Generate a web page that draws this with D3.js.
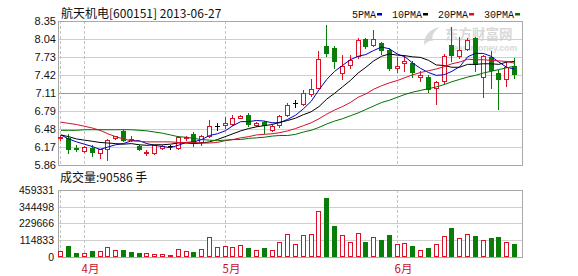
<!DOCTYPE html>
<html lang="zh">
<head>
<meta charset="UTF-8">
<title>航天机电[600151] 日K线</title>
<script src="https://d3js.org/d3.v7.min.js"></script>
<style>
  body { margin: 0; background: #fff; }
  svg { display: block; }
  text { font-family: "Liberation Sans", Arial, sans-serif; }
  .cjk { font-family: "Noto Sans CJK SC", sans-serif; }
  .mono { font-family: "Liberation Mono", "DejaVu Sans Mono", monospace; }
</style>
</head>
<body>
<div id="chart"></div>
<script>
// trading days shown (2013-03-27 .. 2013-06-27)
const dates = [
  "2013-03-27","2013-03-28","2013-03-29",
  "2013-04-01","2013-04-02","2013-04-03","2013-04-08","2013-04-09","2013-04-10","2013-04-11","2013-04-12",
  "2013-04-15","2013-04-16","2013-04-17","2013-04-18","2013-04-19","2013-04-22","2013-04-23","2013-04-24",
  "2013-04-25","2013-04-26",
  "2013-05-02","2013-05-03","2013-05-06","2013-05-07","2013-05-08","2013-05-09","2013-05-10","2013-05-13",
  "2013-05-14","2013-05-15","2013-05-16","2013-05-17","2013-05-20","2013-05-21","2013-05-22","2013-05-23",
  "2013-05-24","2013-05-27","2013-05-28","2013-05-29","2013-05-30","2013-05-31",
  "2013-06-03","2013-06-04","2013-06-05","2013-06-06","2013-06-07","2013-06-13","2013-06-14","2013-06-17",
  "2013-06-18","2013-06-19","2013-06-20","2013-06-21","2013-06-24","2013-06-25","2013-06-26","2013-06-27"
];

const open  = [6.33,6.33,6.15,6.10,6.16,6.07,6.14,6.32,6.45,6.31,6.19,6.06,6.06,6.15,6.18,6.15,6.32,6.40,6.26,6.37,
               6.53,6.55,6.57,6.68,6.72,6.55,6.61,6.46,6.55,6.72,6.93,6.91,7.08,7.20,7.91,7.89,7.45,7.59,7.74,8.04,
               7.93,7.97,7.85,7.53,7.63,7.62,7.38,7.39,7.19,7.31,7.93,7.74,7.87,8.06,7.38,7.72,7.45,7.35,7.57];
const close = [6.35,6.14,6.14,6.17,6.09,6.13,6.30,6.36,6.29,6.30,6.13,6.09,6.20,6.18,6.18,6.35,6.34,6.25,6.36,6.54,
               6.53,6.58,6.68,6.71,6.57,6.59,6.55,6.53,6.70,6.90,6.93,7.10,7.17,7.70,7.80,7.65,7.57,7.68,8.02,7.91,
               8.04,7.85,7.53,7.57,7.66,7.47,7.42,7.18,7.30,7.74,7.76,7.84,8.02,7.60,7.74,7.51,7.35,7.55,7.43];
const high  = [6.38,6.39,6.21,6.18,6.20,6.14,6.31,6.37,6.49,6.36,6.20,6.12,6.21,6.21,6.20,6.37,6.36,6.43,6.38,6.63,
               6.59,6.69,6.72,6.72,6.76,6.61,6.62,6.55,6.72,6.94,6.98,7.16,7.34,7.83,8.28,7.91,7.77,7.77,8.06,8.05,
               8.20,7.99,7.88,7.72,7.74,7.65,7.48,7.42,7.32,7.78,8.24,8.07,8.06,8.07,7.77,7.83,7.50,7.66,7.71];
const low   = [6.30,6.07,6.10,6.09,6.02,5.98,5.95,6.31,6.27,6.27,6.12,6.03,6.05,6.13,6.14,6.13,6.30,6.18,6.21,6.34,
               6.47,6.50,6.55,6.67,6.53,6.53,6.42,6.44,6.51,6.70,6.86,6.90,7.06,7.19,7.74,7.54,7.34,7.54,7.71,7.89,
               7.92,7.78,7.51,7.47,7.48,7.39,7.31,7.13,6.92,7.28,7.65,7.71,7.85,7.48,7.03,7.19,6.82,7.22,7.36];

// volume in 手
const volume = [41000,75000,27300,25000,41000,41000,66000,47800,47800,34100,27300,25000,18200,18200,11400,52300,
                38700,34100,52300,134200,68200,72800,68200,79600,61400,45500,61400,45500,102300,154600,88700,
                147800,154600,313800,402500,211500,147800,102300,161500,102300,134200,116000,150100,86400,93200,
                75000,45500,61400,86400,141000,197800,127300,154600,143300,113700,129600,136400,100100,90586];

// moving averages
const ma5  = [6.38,6.31,6.26,6.22,6.18,6.13,6.17,6.21,6.23,6.28,6.28,6.23,6.20,6.18,6.16,6.20,6.25,6.26,6.30,6.37,
              6.40,6.45,6.54,6.61,6.61,6.63,6.62,6.59,6.59,6.65,6.72,6.83,6.96,7.16,7.34,7.48,7.58,7.68,7.74,7.77,
              7.84,7.90,7.87,7.78,7.73,7.62,7.53,7.46,7.41,7.42,7.48,7.56,7.73,7.79,7.79,7.74,7.64,7.55,7.52];
const ma10 = [6.38,6.35,6.31,6.29,6.27,6.25,6.24,6.23,6.22,6.23,6.21,6.20,6.21,6.21,6.22,6.24,6.24,6.23,6.24,6.26,
              6.30,6.35,6.40,6.45,6.49,6.52,6.54,6.56,6.60,6.63,6.67,6.73,6.78,6.87,7.00,7.10,7.21,7.32,7.45,7.55,
              7.66,7.74,7.78,7.76,7.75,7.73,7.72,7.67,7.59,7.58,7.55,7.55,7.60,7.60,7.61,7.61,7.60,7.64,7.65];
const ma20 = [6.60,6.58,6.56,6.53,6.50,6.46,6.40,6.35,6.31,6.28,6.27,6.26,6.26,6.26,6.26,6.25,6.25,6.25,6.24,6.24,
              6.25,6.28,6.30,6.33,6.35,6.38,6.39,6.40,6.42,6.45,6.49,6.54,6.59,6.66,6.74,6.81,6.87,6.94,7.03,7.09,
              7.17,7.23,7.28,7.32,7.37,7.42,7.46,7.49,7.52,7.56,7.61,7.64,7.69,7.68,7.68,7.67,7.66,7.65,7.62];
const ma30 = [6.46,6.46,6.46,6.47,6.47,6.47,6.47,6.47,6.47,6.47,6.46,6.45,6.43,6.41,6.38,6.35,6.34,6.32,6.30,6.29,
              6.28,6.29,6.30,6.30,6.32,6.33,6.34,6.36,6.37,6.37,6.39,6.43,6.46,6.51,6.57,6.62,6.66,6.71,6.76,6.82,
              6.88,6.94,6.98,7.03,7.08,7.12,7.15,7.18,7.21,7.25,7.30,7.34,7.38,7.41,7.45,7.48,7.51,7.54,7.57];

const priceTicks = [5.86, 6.17, 6.48, 6.79, 7.11, 7.42, 7.73, 8.04, 8.35];
const volTicks = [0, 114833, 229666, 344498, 459331];
const monthLines = ["2013-03-27", "2013-04-01", "2013-05-02", "2013-06-03"];
const monthLabels = ["", "4月", "5月", "6月"];
const maNames = ["5PMA", "10PMA", "20PMA", "30PMA"];

const W = 578, H = 276;
const left = 58.5, right = 522.5;
const priceTop = 21, priceBottom = 165;
const volTop = 190, volBottom = 257;

const RED = "#dd1126", GREEN = "#087d08";
const maColors = ["#0000c0", "#000000", "#d4102a", "#007000"];
const maSeries = [ma5, ma10, ma20, ma30];

const svg = d3.select("#chart").append("svg")
  .attr("width", W).attr("height", H);

svg.append("rect").attr("width", W).attr("height", H).attr("fill", "#fff");

const x = d3.scaleBand().domain(dates).range([57, 57 + 7.82 * dates.length])
  .paddingInner(0.3).paddingOuter(0.15);
const mid = d => x(d) + x.bandwidth() / 2;
const px = d => Math.floor(mid(d));

const y = d3.scaleLinear().domain([5.86, 8.35]).range([priceBottom, priceTop]);
const yv = d3.scaleLinear().domain([0, 459331]).range([volBottom, volTop]);
const snap = v => Math.round(v) + 0.5;

// watermark
const wm = svg.append("g").attr("fill", "#d9d9d9");
wm.append("path")
  .attr("d", "M424,45 C424,36 429,29 440,27 C434,31 431,36 433,41 C430,40 427,42 424,45 Z");
wm.append("text").attr("class", "cjk").attr("x", 445).attr("y", 38.5)
  .attr("font-size", 13.5).attr("font-weight", "bold").text("东方财富网");
wm.append("text").attr("x", 517).attr("y", 50.5).attr("text-anchor", "end")
  .attr("font-size", 8.5).attr("font-weight", "bold").text("eastmoney.com");

// horizontal grid
svg.append("g").selectAll("line").data(priceTicks).join("line")
  .attr("x1", left).attr("x2", right)
  .attr("y1", d => snap(y(d))).attr("y2", d => snap(y(d)))
  .attr("stroke", d => d === 7.11 ? "#9a9a9a" : "#cfcfcf");

svg.append("g").selectAll("line").data(volTicks).join("line")
  .attr("x1", left).attr("x2", right)
  .attr("y1", d => snap(yv(d))).attr("y2", d => snap(yv(d)))
  .attr("stroke", "#cfcfcf");

// month dashed lines
const ml = svg.append("g").attr("stroke", "#c4c4c4").attr("stroke-dasharray", "3,2");
monthLines.forEach(d => {
  ml.append("line").attr("x1", px(d) + 0.5).attr("x2", px(d) + 0.5)
    .attr("y1", priceTop).attr("y2", priceBottom);
  ml.append("line").attr("x1", px(d) + 0.5).attr("x2", px(d) + 0.5)
    .attr("y1", volTop).attr("y2", volBottom);
});

// panel borders
svg.append("rect").attr("x", left).attr("y", snap(priceTop))
  .attr("width", right - left).attr("height", Math.round(priceBottom) - Math.round(priceTop))
  .attr("fill", "none").attr("stroke", "#a8a8a8");
svg.append("rect").attr("x", left).attr("y", snap(volTop))
  .attr("width", right - left).attr("height", Math.round(volBottom) - Math.round(volTop))
  .attr("fill", "none").attr("stroke", "#a8a8a8");

// candles
const candles = dates.map((d, i) => ({ d, o: open[i], c: close[i], h: high[i], l: low[i], v: volume[i] }));
const cg = svg.append("g");
candles.forEach(k => {
  const c = px(k.d);
  const col = k.o === k.c ? "#000" : (k.c > k.o ? RED : GREEN);
  cg.append("line")
    .attr("x1", c + 0.5).attr("x2", c + 0.5)
    .attr("y1", Math.round(y(k.h))).attr("y2", Math.round(y(k.l)) + 1)
    .attr("stroke", col);
  const top = Math.round(y(Math.max(k.o, k.c)));
  const bot = Math.round(y(Math.min(k.o, k.c)));
  if (k.o === k.c) {
    cg.append("line").attr("x1", c - 2).attr("x2", c + 3)
      .attr("y1", top + 0.5).attr("y2", top + 0.5).attr("stroke", col);
  } else if (k.c > k.o) {
    cg.append("rect").attr("x", c - 1.5).attr("y", top + 0.5)
      .attr("width", 4).attr("height", Math.max(bot - top, 1))
      .attr("fill", "#fff").attr("stroke", col);
  } else {
    cg.append("rect").attr("x", c - 2).attr("y", top)
      .attr("width", 5).attr("height", Math.max(bot - top + 1, 1))
      .attr("fill", col);
  }
});

// moving average lines
maSeries.forEach((s, j) => {
  const line = d3.line().x((v, i) => mid(dates[i])).y(v => y(v));
  svg.append("path").datum(s).attr("d", line)
    .attr("fill", "none").attr("stroke", maColors[j]).attr("stroke-width", 1);
});

// volume bars
const vg = svg.append("g");
candles.forEach(k => {
  const c = px(k.d);
  const top = Math.round(yv(k.v));
  if (k.c >= k.o) {
    vg.append("rect").attr("x", c - 1.5).attr("y", top + 0.5)
      .attr("width", 4).attr("height", Math.max(volBottom - top - 1, 1))
      .attr("fill", "#fff").attr("stroke", RED);
  } else {
    vg.append("rect").attr("x", c - 2).attr("y", top)
      .attr("width", 5).attr("height", volBottom - top)
      .attr("fill", GREEN);
  }
});

// price labels
svg.append("g").selectAll("text").data(priceTicks).join("text")
  .attr("x", 56).attr("y", d => y(d) + 3.8)
  .attr("text-anchor", "end").attr("font-size", 11).attr("fill", "#111")
  .text(d => d.toFixed(2));

// volume labels
svg.append("g").selectAll("text").data(volTicks).join("text")
  .attr("x", 54).attr("y", d => yv(d) + 4)
  .attr("text-anchor", "end").attr("font-size", 10.5).attr("fill", "#111")
  .text(d => d);

// month labels
svg.append("g").selectAll("text").data(monthLines).join("text")
  .attr("class", "cjk")
  .attr("x", d => px(d) - 2.5).attr("y", 272.5)
  .attr("font-size", 11.5).attr("fill", "#c8102e")
  .text((d, i) => monthLabels[i]);

// title and volume caption
svg.append("text").attr("class", "cjk").attr("x", 61).attr("y", 17.5)
  .attr("font-size", 12).attr("fill", "#111")
  .text("航天机电[600151] 2013-06-27");
svg.append("text").attr("class", "cjk").attr("x", 60).attr("y", 181.5)
  .attr("font-size", 12).attr("fill", "#111")
  .text("成交量:" + volume[volume.length - 1] + " 手");

// legend
let lx = 352;
const lg = svg.append("g");
maNames.forEach((name, j) => {
  const t = lg.append("text").attr("class", "mono").attr("x", lx).attr("y", 17.5)
    .attr("font-size", 10).attr("fill", "#111").text(name);
  const w = t.node().getComputedTextLength();
  lg.append("rect").attr("x", lx + w + 1).attr("y", 13).attr("width", 5).attr("height", 2.5)
    .attr("fill", maColors[j]);
  lx = lx + w + 16;
});
</script>
</body>
</html>
